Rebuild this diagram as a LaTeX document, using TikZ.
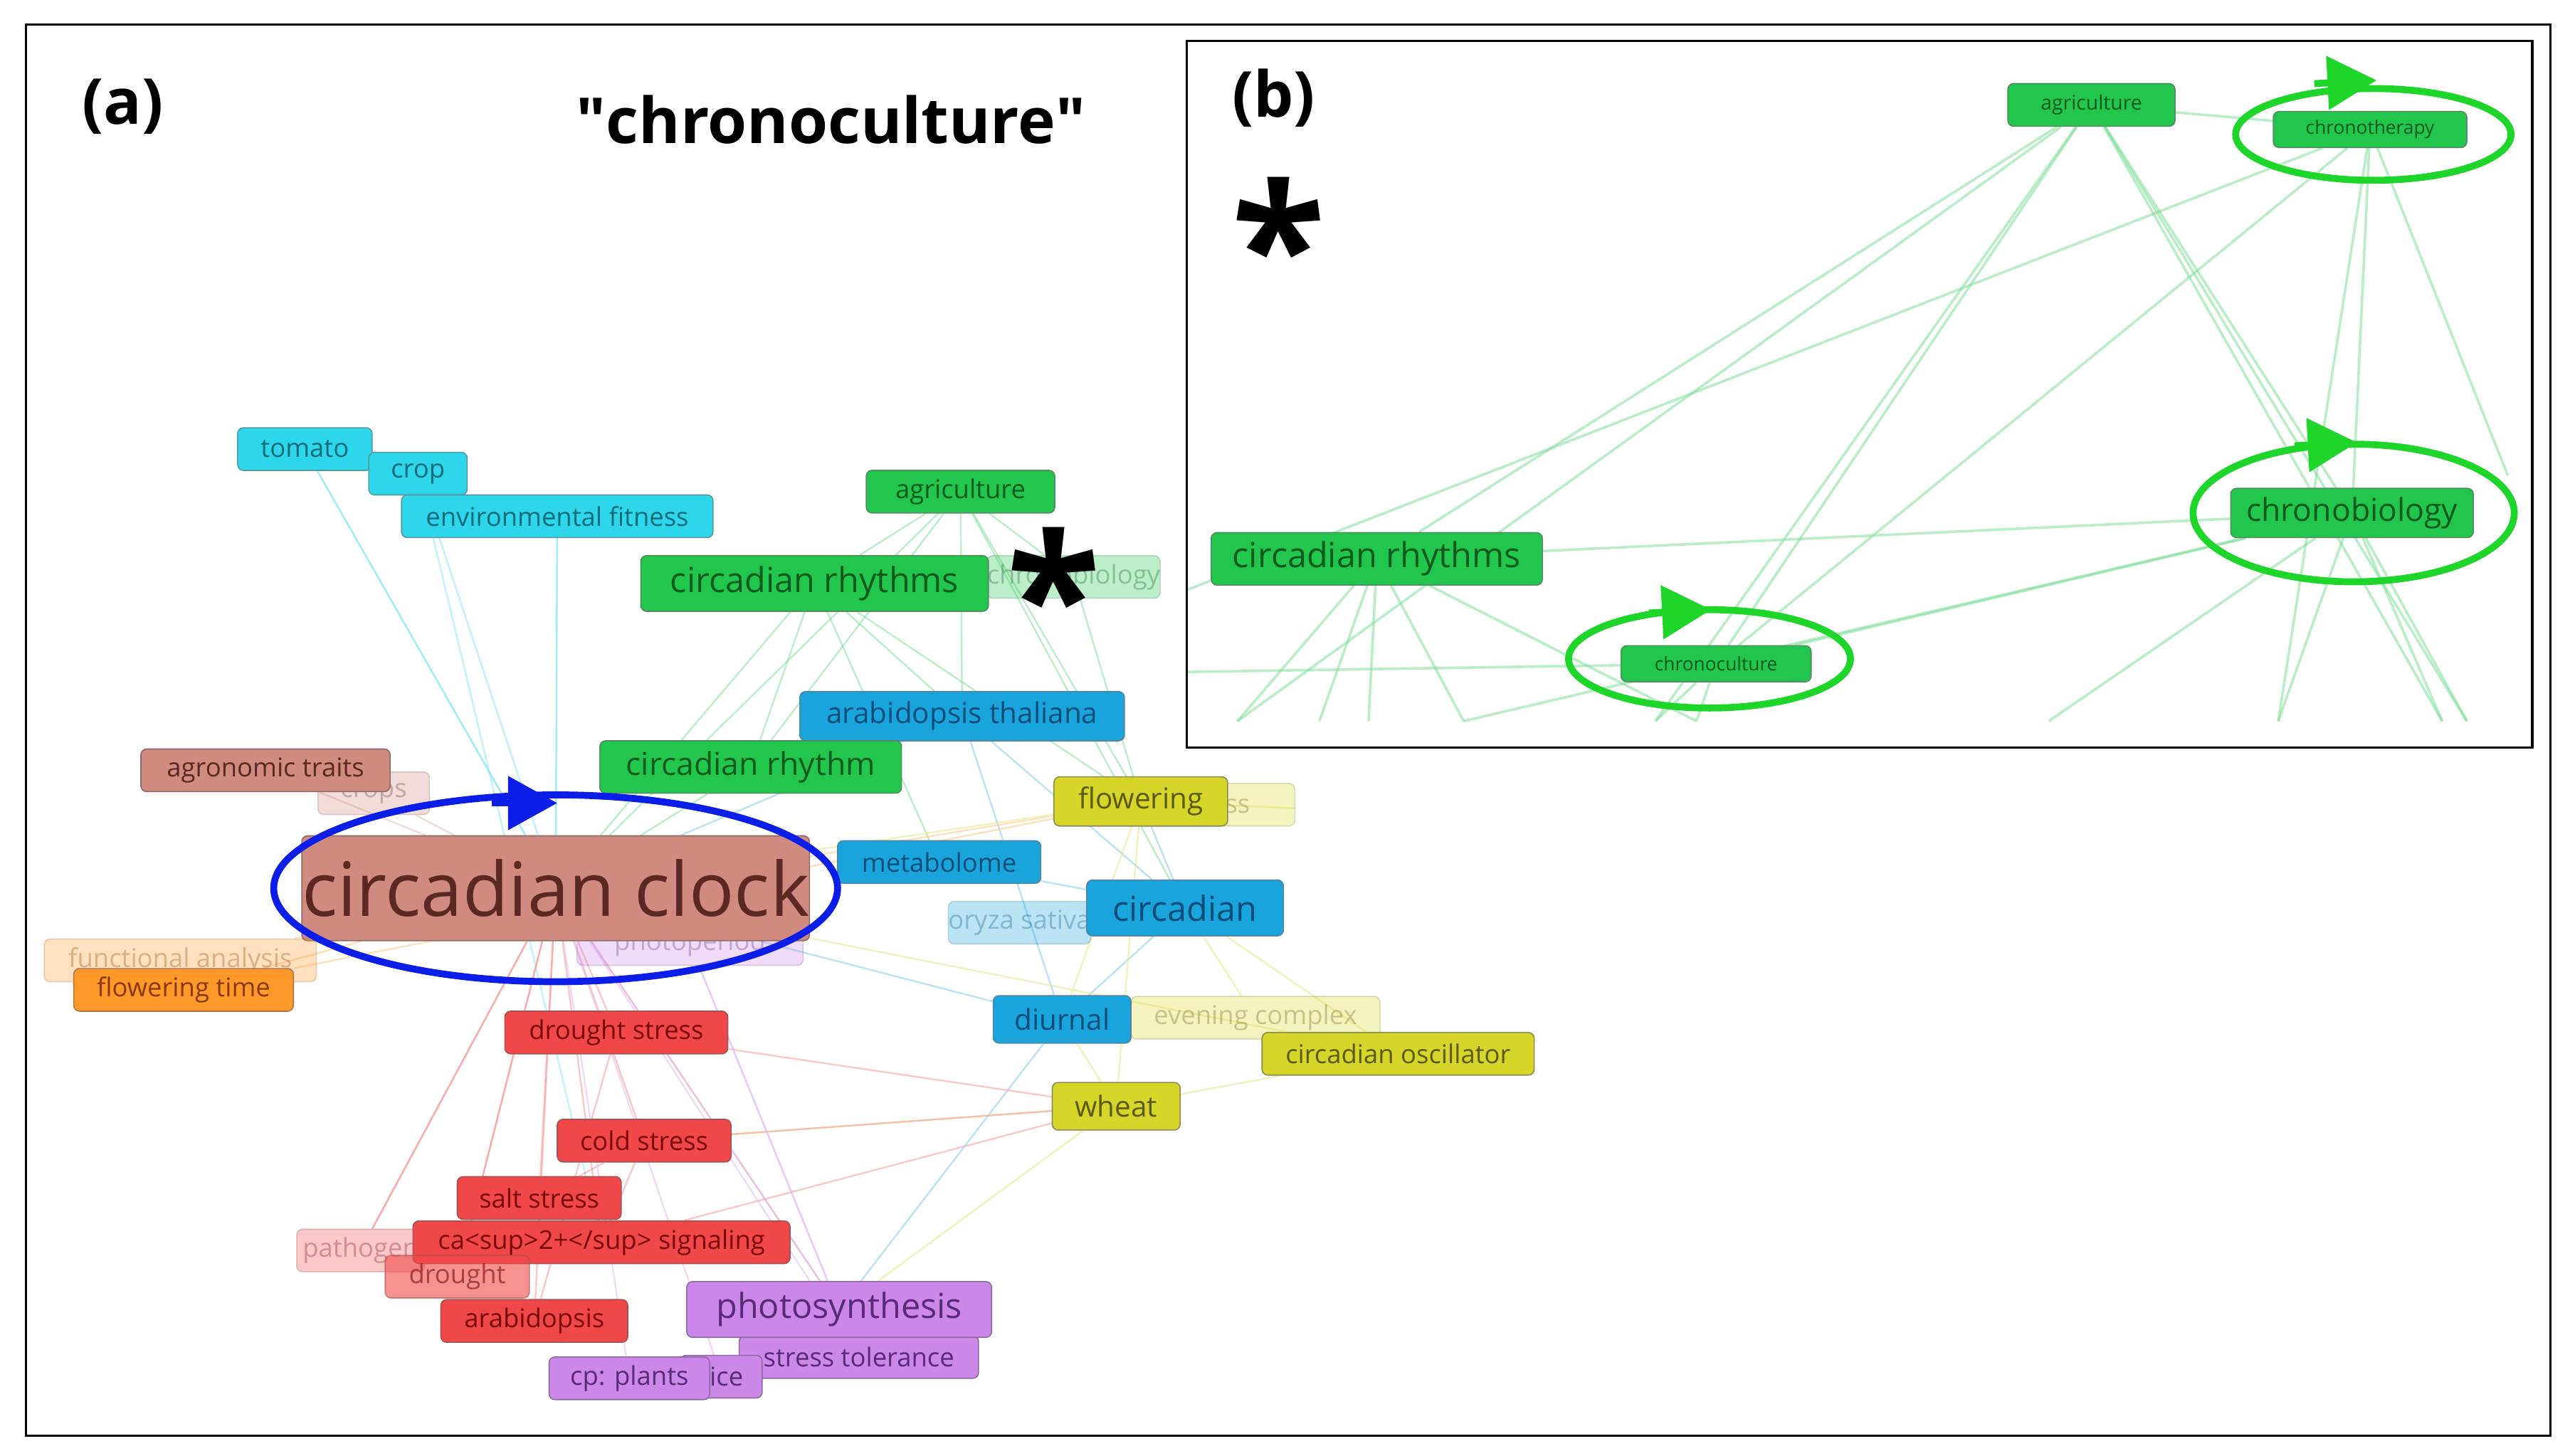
\documentclass[tikz,border=0pt]{standalone}
\usepackage{fontspec}
\setmainfont{Open Sans}
\usetikzlibrary{backgrounds,arrows.meta}
\definecolor{cyanF}{HTML}{2ED6EC}\definecolor{cyanT}{HTML}{0C6C7A}
\definecolor{greenF}{HTML}{22C64C}\definecolor{greenT}{HTML}{0B5A1E}
\definecolor{blueF}{HTML}{1AA4DC}\definecolor{blueT}{HTML}{064E7A}
\definecolor{brownF}{HTML}{D08A80}\definecolor{brownT}{HTML}{5A2A22}
\definecolor{yellowF}{HTML}{D6D62A}\definecolor{yellowT}{HTML}{5A5A08}
\definecolor{orangeF}{HTML}{FF9A2A}\definecolor{orangeT}{HTML}{8A3A00}
\definecolor{redF}{HTML}{F04848}\definecolor{redT}{HTML}{7A0808}
\definecolor{purpleF}{HTML}{CC88E8}\definecolor{purpleT}{HTML}{5A2A78}
\definecolor{ringblue}{HTML}{0A1EE8}\definecolor{ringgreen}{HTML}{1ED62A}
\tikzset{
  kw/.style={rounded corners=2pt, draw=#1T!70, fill=#1F, text=#1T, inner sep=0pt,
    minimum height=5.2mm, font=\fontsize{9}{9}\selectfont},
  faint/.style={opacity=0.3},
  ed/.style={draw=#1F!60, opacity=0.5, line width=0.6pt},
  ring/.style={line width=2.4pt},
  tip/.style={-{Triangle[length=6mm,width=6.4mm]}, line width=2.4pt}
}
\begin{document}
\begin{tikzpicture}[x=0.2mm, y=-0.2mm]
\useasboundingbox (0,0) rectangle (1568,888);
\draw[line width=0.8pt] (16,15) rectangle (1556,876);
\node[font=\fontsize{22}{22}\bfseries\selectfont] (lba) at (75,65) {(a)};
\node[font=\fontsize{22}{22}\bfseries\selectfont] (title) at (507,73) {\textquotedbl chronoculture\textquotedbl};

% panel (a) keywords
\node[kw=cyan, minimum width=16.4mm] (tomato) at (186,274) {tomato};
\node[kw=cyan, minimum width=12mm] (crop) at (255,289) {crop};
\node[kw=cyan, minimum width=38mm] (envfit) at (340,315) {environmental fitness};
\node[kw=green, minimum width=23mm] (agri) at (586,300) {agriculture};
\node[kw=green, faint, minimum width=18mm] (chrbio) at (655,352) {chronobiology};
\node[kw=green, minimum width=42.4mm, minimum height=6.8mm, font=\fontsize{12}{12}\selectfont] (rhythms) at (497,356) {circadian rhythms};
\node[font=\fontsize{60}{60}\bfseries\selectfont] (ast) at (643,362) {*};
\node[kw=blue, minimum width=39.6mm, minimum height=6mm, font=\fontsize{10}{10}\selectfont] (athal) at (587,437) {arabidopsis thaliana};
\node[kw=green, minimum width=36.8mm, minimum height=6.4mm, font=\fontsize{11}{11}\selectfont] (rhythm) at (458,468) {circadian rhythm};
\node[kw=brown, faint, minimum width=13.6mm] (crops) at (228,484) {crops};
\node[kw=brown, minimum width=30.4mm] (agron) at (162,470) {agronomic traits};
\node[kw=yellow, faint, minimum width=19.6mm] (stress) at (741,491) {stress};
\node[kw=yellow, minimum width=21.2mm, minimum height=6mm, font=\fontsize{10}{10}\selectfont] (flower) at (696,489) {flowering};
\node[kw=purple, faint, minimum width=27.6mm] (photo) at (421,576) {photoperiod};
\node[kw=brown, minimum width=60.4mm, minimum height=12.8mm, font=\fontsize{26}{26}\selectfont] (clock) at (339,542) {circadian clock};
\node[kw=blue, minimum width=24.8mm] (metab) at (573,526) {metabolome};
\node[kw=blue, faint, minimum width=17mm] (oryza) at (622,563) {oryza sativa};
\node[kw=blue, minimum width=24mm, minimum height=6.8mm, font=\fontsize{12}{12}\selectfont] (circ) at (723,554) {circadian};
\node[kw=orange, faint, minimum width=33.2mm] (funcan) at (110,586) {functional analysis};
\node[kw=orange, minimum width=26.8mm] (fltime) at (112,604) {flowering time};
\node[kw=yellow, faint, minimum width=30.4mm] (evening) at (766,621) {evening complex};
\node[kw=blue, minimum width=16.8mm, minimum height=5.8mm, font=\fontsize{10}{10}\selectfont] (diurnal) at (648,622) {diurnal};
\node[kw=yellow, minimum width=33.2mm] (oscil) at (853,643) {circadian oscillator};
\node[kw=red, minimum width=27.2mm] (drstress) at (376,630) {drought stress};
\node[kw=yellow, minimum width=15.6mm, minimum height=5.8mm, font=\fontsize{10}{10}\selectfont] (wheat) at (681,675) {wheat};
\node[kw=red, minimum width=21.2mm] (cold) at (393,696) {cold stress};
\node[kw=red, minimum width=20mm] (salt) at (329,731) {salt stress};
\node[kw=red, faint, minimum width=15.6mm] (patho) at (220,763) {pathogen};
\node[kw=red, minimum width=46mm] (casig) at (367,758) {ca<sup>2+</sup> signaling};
\node[kw=red, opacity=0.6, minimum width=17.6mm] (drought) at (279,779) {drought};
\node[kw=red, minimum width=22.8mm] (arab) at (326,806) {arabidopsis};
\node[kw=purple, minimum width=29.2mm] (stol) at (524,828) {stress tolerance};
\node[kw=purple, minimum width=37.2mm, minimum height=6.8mm, font=\fontsize{12}{12}\selectfont] (photosyn) at (512,799) {photosynthesis};
\node[kw=purple, minimum width=10mm] (rice) at (440,840) {rice};
\node[kw=purple, minimum width=19.6mm] (cpplants) at (384,841) {cp: plants};

% ring and arrow around circadian clock
\draw[ring, ringblue] (clock.center) ellipse [x radius=172, y radius=57];
\draw[tip, ringblue] (300,490) -- (340,490);

\begin{scope}[on background layer]
\foreach \a/\b in {clock/tomato, clock/crop, clock/envfit, tomato/clock, crop/casig, envfit/clock}
  \draw[ed=cyan] (\a) -- (\b);
\foreach \a/\b in {agri/rhythms, agri/rhythm, agri/athal, agri/flower, agri/chrbio, rhythms/rhythm,
  rhythms/athal, rhythms/clock, rhythm/athal, rhythm/clock, agri/circ, rhythms/flower, chrbio/flower, rhythms/metab, agri/clock}
  \draw[ed=green] (\a) -- (\b);
\foreach \a/\b in {athal/circ, athal/clock, metab/circ, circ/diurnal, circ/oryza, diurnal/clock, circ/flower, diurnal/photosyn, athal/diurnal}
  \draw[ed=blue] (\a) -- (\b);
\foreach \a/\b in {flower/clock, flower/wheat, wheat/oscil, wheat/diurnal, evening/circ, oscil/circ, wheat/cold, flower/diurnal, wheat/photosyn, stress/flower, clock/oscil}
  \draw[ed=yellow] (\a) -- (\b);
\foreach \a/\b in {clock/drstress, clock/cold, clock/salt, clock/casig, clock/drought, clock/arab, clock/patho, drstress/wheat,
  cold/wheat, casig/wheat, drstress/arab, cold/salt, clock/photosyn, casig/cold, drought/clock, patho/clock}
  \draw[ed=red] (\a) -- (\b);
\foreach \a/\b in {clock/photosyn, clock/stol, clock/cpplants, photo/photosyn, clock/rice, photo/stol}
  \draw[ed=purple] (\a) -- (\b);
\foreach \a/\b in {clock/fltime, clock/funcan, fltime/flower, funcan/flower}
  \draw[ed=orange] (\a) -- (\b);
\draw[ed=brown] (agron) -- (clock);
\draw[ed=brown] (crops) -- (clock);
\end{scope}

% panel (b)
\begin{scope}[on background layer]
\fill[white] (724,25) rectangle (1545,456);
\end{scope}
\draw[line width=0.8pt] (724,25) rectangle (1545,456);
\node[font=\fontsize{22}{22}\bfseries\selectfont] (lbb) at (777,60) {(b)};
\node[font=\fontsize{60}{60}\bfseries\selectfont] (astb) at (780,148) {*};
\begin{scope}
\clip (725,26) rectangle (1544,440);
\foreach \n/\x in {b1/755, b2/805, b3/835, b4/893, b5/1010, b6/1035, b7/1250, b8/1390, b9/1490, b10/1505}
  \coordinate (\n) at (\x,440);
\coordinate (bl1) at (724,360);
\coordinate (bl2) at (724,410);
\coordinate (br1) at (1530,290);
\coordinate (br2) at (1500,440);
\node[kw=green, minimum width=20.4mm, font=\fontsize{7}{7}\selectfont] (bagri) at (1276,64) {agriculture};
\node[kw=green, minimum width=23.6mm, minimum height=4.4mm, font=\fontsize{6.5}{6.5}\selectfont] (bther) at (1446,79) {chronotherapy};
\node[kw=green, minimum width=40.4mm, minimum height=6.4mm, font=\fontsize{12}{12}\selectfont] (brhy) at (840,341) {circadian rhythms};
\node[kw=green, minimum width=29.6mm, minimum height=6mm, font=\fontsize{11}{11}\selectfont] (bbio) at (1435,313) {chronobiology};
\node[kw=green, minimum width=23.2mm, minimum height=4.4mm, font=\fontsize{6.5}{6.5}\selectfont] (bcul) at (1047,405) {chronoculture};
\begin{scope}[on background layer]
\foreach \a/\b in {bagri/brhy, bagri/bther, bagri/bbio, bagri/bcul, bagri/b1, bagri/b5, bagri/b10, bther/bbio, bther/bcul,
  bther/br1, bther/bl1, bther/b8, brhy/bbio, brhy/b1, brhy/b2, brhy/b3, brhy/b4, brhy/b6, bbio/bcul, bbio/b7, bbio/b8,
  bbio/b9, bbio/b10, bcul/b5, bcul/b6, bcul/bl2, bbio/b4, bagri/b9}
  \draw[ed=green, line width=0.9pt] (\a) -- (\b);
\end{scope}
\end{scope}
\draw[ring, ringgreen] (1448,82) ellipse [x radius=84, y radius=28];
\draw[tip, ringgreen] (1412,51) -- (1450,49);
\draw[ring, ringgreen] (1436,313) ellipse [x radius=98, y radius=42];
\draw[tip, ringgreen] (1400,272) -- (1438,270);
\draw[ring, ringgreen] (1043,402) ellipse [x radius=86, y radius=30];
\draw[tip, ringgreen] (1006,374) -- (1044,372);
\end{tikzpicture}
\end{document}
